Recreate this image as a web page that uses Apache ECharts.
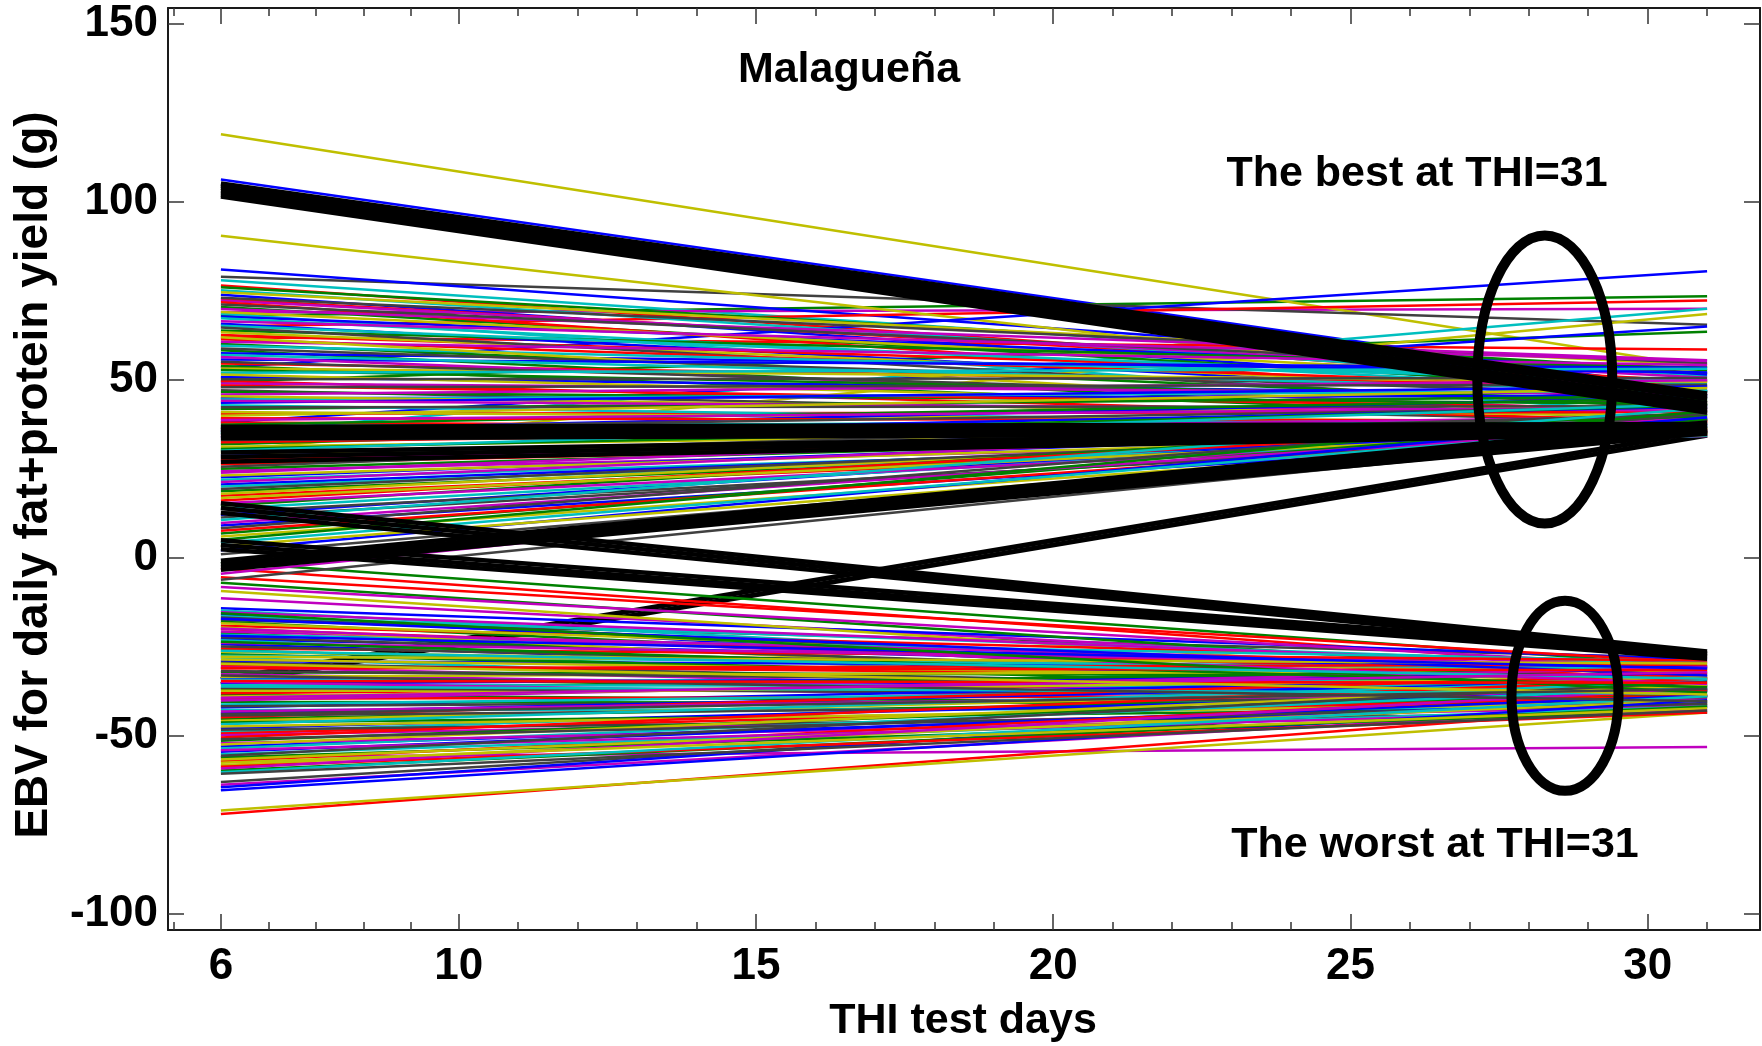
<!DOCTYPE html>
<html>
<head>
<meta charset="utf-8">
<script src="https://cdn.jsdelivr.net/npm/echarts@6/dist/echarts.min.js"></script>
<style>
  html, body { margin: 0; padding: 0; background: #ffffff; }
  #chart { width: 1762px; height: 1046px; }
</style>
</head>
<body>
<div id="chart"></div>
<script>
// THI values at which each sire's reaction norm is evaluated
const thiPoints = [6, 31];

// axis ticks
const xMajorTicks = [6, 10, 15, 20, 25, 30];
const xMinorTicks = [5.2, 6.8, 7.6, 8.4, 9.2, 11, 12, 13, 14, 16, 17, 18, 19,
                     21, 22, 23, 24, 26, 27, 28, 29, 31];
const yTicks = [-100, -50, 0, 50, 100, 150];

// EBV (g) of every sire at THI = 6, in plotting order (seven per row)
const ebvAt6 = [
  106.3, 68, 76.5, 78, 69, 119, 79,
  81, 49.5, 65, 35, -56, 90.5, -63,
  53.5, -1.2, 62, 68.6, -63.8, 30, -17.5,
  38, 58.3, -72, -28.0, -11.4, -71, 47.1,
  -64.5, -38.5, 38.0, -49.0, 24.4, -58.3, 11.3,
  73.9, 76.0, 72.7, 75.2, 72.3, 74.6, 73.1,
  67.8, 70.5, 71.8, 67.3, 69.9, 69.1, 71.2,
  65.8, 63.9, 62.6, 65.2, 66.5, 63.4, 64.7,
  57.5, 60.1, 61.4, 59.6, 60.7, 62.0, 58.8,
  55.7, 53.9, 54.6, 57.0, 56.4, 53.2, 55.1,
  50.8, 52.8, 49.7, 52.0, 49.0, 51.5, 50.2,
  44.8, 46.6, 48.4, 44.5, 45.9, 45.4, 47.9,
  43.6, 41.8, 40.5, 42.9, 44.1, 41.0, 42.3,
  35.6, 37.4, 39.2, 36.9, 38.7, 39.9, 36.2,
  33.8, 31.9, 32.5, 35.0, 34.3, 31.2, 33.1,
  28.8, 30.6, 27.5, 30.1, 26.9, 29.4, 28.1,
  22.6, 25.0, 26.3, 21.9, 23.9, 23.1, 25.6,
  20.6, 18.7, 17.4, 20.0, 21.3, 18.0, 19.3,
  12.1, 14.6, 16.1, 13.8, 15.3, 16.8, 12.9,
  9.1, 6.8, 7.6, 10.6, 9.8, 6.0, 8.3,
  2.1, 5.1, -3.0, 4.2, -4.5, 3.3, 1.0,
  -14.2, -7.0, -5.5, -14.8, -8.2, -9.3, -6.2,
  -15.9, -18.0, -19.1, -16.4, -15.3, -18.4, -16.8,
  -22.8, -21.2, -20.0, -21.6, -20.7, -19.6, -22.3,
  -24.3, -25.9, -25.5, -23.2, -23.9, -26.4, -24.9,
  -29.1, -27.1, -30.2, -27.5, -30.7, -28.6, -29.5,
  -33.8, -32.2, -31.1, -34.3, -32.7, -33.4, -31.8,
  -35.4, -37.0, -38.1, -35.8, -34.9, -37.4, -36.5,
  -42.1, -40.5, -39.6, -41.2, -40.1, -39.0, -41.7,
  -43.7, -45.2, -44.8, -42.8, -43.2, -45.9, -44.3,
  -47.9, -46.3, -49.4, -46.8, -49.9, -47.4, -48.3,
  -53.0, -51.4, -50.5, -53.6, -52.1, -52.5, -51.0,
  -54.5, -56.1, -57.2, -55.2, -54.1, -56.7, -55.6,
  -65.3, -59.8, -58.7, -60.3, -59.2, -57.6, -60.7,
  -17.1, -23.6, -30.9, -36.2, -19.9, -27.8, -33.1,
  -21.9, -15.6, -34.6, -26.1, -39.3, -29.8, -44.0
];

// EBV (g) of the same sires at THI = 31
const ebvAt31 = [
  46.8, 73.5, 48, 51, 70, 53.5, 65.5,
  51.5, 63.5, 72.3, 70, -53.2, 44, -38.5,
  80.5, -30.5, 58.5, 40.1, -41.5, 68.5, -28.3,
  65, 38.4, -41, -41.4, -32.5, -43.5, 38.3,
  -36.8, -41.5, 36.1, -35.6, 34.2, -38.5, 35.8,
  46, 52.7, 49.5, 48.5, 50.6, 54.2, 54.7,
  51.8, 46.8, 43.2, 46.6, 55.5, 49.3, 52,
  44.1, 53.4, 49.9, 48.9, 55.3, 46.2, 41.7,
  52.1, 43, 47.5, 49.8, 54.2, 38.7, 45.5,
  53.4, 38.8, 48, 46.9, 40.7, 49.5, 43.2,
  45.7, 44.4, 38.3, 53.1, 46, 40.9, 50.5,
  45.5, 43.2, 41.8, 47, 49.9, 39.7, 48.6,
  48.1, 45.4, 41, 36.8, 41.3, 38.1, 42.6,
  45.2, 44.8, 38.5, 38.7, 42.3, 47.7, 42.4,
  42.5, 42.9, 38.1, 37, 39.7, 36.6, 35.3,
  37.7, 39.4, 35.3, 43.2, 39.1, 35, 40.5,
  37.5, 36.4, 35.8, 34.3, 39, 35.7, 40.6,
  35.8, 35.1, 34.6, 34.6, 39, 37.9, 37.3,
  39.1, 40.2, 38.5, 36.9, 35.4, 36.2, 34.5,
  34.8, 38.8, 36.4, 42.0, 37.2, 35.1, 40.5,
  39.5, 41.2, -32, 37.6, 38.2, 34.9, 36.0,
  -28.6, -34, -29.5, -35.8, -30.8, -36, 35.5,
  -39, -37.4, -29.6, -30.1, -30.9, -32.5, -34.2,
  -32.4, -37, -33.8, -29.1, -30.9, -40.7, -35.3,
  -36.7, -39, -28.9, -39.4, -30.6, -32.1, -33.8,
  -30.6, -36.2, -33.8, -31.3, -39.9, -34.5, -37.7,
  -37.6, -33.2, -30, -34.7, -39.3, -31.5, -36.2,
  -32.9, -31.2, -34.4, -36, -41.8, -37.3, -39.1,
  -33.2, -40.9, -38.7, -36, -30.8, -33.6, -39.1,
  -34.5, -38.8, -32.8, -42.4, -37.4, -36, -40.7,
  -37.4, -42.1, -38.7, -34.2, -41.8, -40.3, -43.5,
  -40.4, -37.1, -33.9, -36.5, -43.2, -35.3, -41,
  -38.7, -43, -37.2, -41.8, -42.6, -40.1, -34.9,
  -40, -41.8, -43.5, -38.9, -36.6, -42.3, -42.9,
  -33.1, -36.4, -31.6, -38.2, -35.5, -29.7, -40.3,
  -31.1, -37.9, -35.1, -34.0, -32.2, -38.4, -36.9
];

// highlighted sires (black); this first group is drawn beneath the others
const blackUnderAt6 = [-34.2, -35.6];
const blackUnderAt31 = [35.6, 34.4];

// highlighted sires (black) drawn on top
const blackAt6 = [
  105.2, 104.6, 104.0, 103.3, 102.7, 102.1, 101.5,
  36.8, 36.0, 35.2, 34.4, 33.6,
  29.6, 28.3, 27.0,
  -0.8, -1.8, -2.6, -3.4,
  15.3, 14.0, 12.6,
  4.9, 3.6, 2.4
];
const blackAt31 = [
  46.2, 45.4, 44.6, 43.4, 42.5, 41.6, 40.8,
  37.6, 37.0, 36.3, 35.6, 35.0,
  36.4, 35.7, 35.0,
  38.0, 37.0, 36.0, 35.0,
  -26.3, -27.0, -27.6,
  -27.0, -27.8, -28.4
];

// rings around the best and the worst sires at THI = 31 (centre and half-axes in data units)
const ringTHI = [28.27, 28.61];
const ringEBV = [50.1, -38.8];
const ringHalfTHI = [1.135, 0.9];
const ringHalfEBV = [40.5, 26.7];

// MATLAB-style line colour order
const lineColors = ['#0000ff', '#008000', '#ff0000', '#00bfbf', '#bf00bf', '#bfbf00', '#404040'];

const FONT = '"Liberation Sans", Arial, Helvetica, sans-serif';
const X_MIN = 5.11, X_MAX = 31.89;
const Y_MIN = -104.6, Y_MAX = 154.5;
const AXIS_COLOR = '#1a1a1a';

function normSeries(at6, at31, colorOf, width) {
  return at6.map((v, i) => ({
    type: 'line',
    data: [[thiPoints[0], v], [thiPoints[1], at31[i]]],
    symbol: 'none',
    silent: true,
    lineStyle: { color: colorOf(i), width: width },
    emphasis: { disabled: true },
    z: 2
  }));
}

const series = [].concat(
  normSeries(blackUnderAt6, blackUnderAt31, () => '#000000', 5),
  normSeries(ebvAt6, ebvAt31, i => lineColors[i % lineColors.length], 2.5),
  normSeries(blackAt6, blackAt31, () => '#000000', 4.5),
  [{
    type: 'custom',
    silent: true,
    z: 3,
    data: ringTHI.map((t, i) => [t, ringEBV[i], ringHalfTHI[i], ringHalfEBV[i]]),
    renderItem: function (params, api) {
      const c = api.coord([api.value(0), api.value(1)]);
      const s = api.size([api.value(2), api.value(3)]);
      return {
        type: 'ellipse',
        shape: { cx: c[0], cy: c[1], rx: s[0], ry: s[1] },
        style: { fill: 'none', stroke: '#000000', lineWidth: 10 }
      };
    }
  }]
);

function xAxisDef(position, ticks, length, withLine, withLabels) {
  return {
    type: 'value', min: X_MIN, max: X_MAX, position: position,
    axisLine: { show: withLine, onZero: false, lineStyle: { color: AXIS_COLOR, width: 2 } },
    axisTick: { show: true, inside: true, length: length, customValues: ticks,
                lineStyle: { color: '#333333', width: 1.5 } },
    axisLabel: withLabels
      ? { show: true, customValues: ticks, fontSize: 44, fontWeight: 'bold', fontFamily: FONT,
          color: '#000000', margin: 15 }
      : { show: false },
    splitLine: { show: false }
  };
}

function yAxisDef(position, withLabels) {
  return {
    type: 'value', min: Y_MIN, max: Y_MAX, position: position,
    axisLine: { show: true, onZero: false, lineStyle: { color: AXIS_COLOR, width: 2 } },
    axisTick: { show: true, inside: true, length: 16, customValues: yTicks,
                lineStyle: { color: '#333333', width: 1.5 } },
    axisLabel: withLabels
      ? { show: true, customValues: yTicks, fontSize: 44, fontWeight: 'bold', fontFamily: FONT,
          color: '#000000', margin: 10 }
      : { show: false },
    splitLine: { show: false }
  };
}

const textStyle = (txt, size) => ({
  text: txt, fill: '#000000', align: 'center', verticalAlign: 'middle',
  font: 'bold ' + size + 'px ' + FONT
});

const chart = echarts.init(document.getElementById('chart'), null, { renderer: 'canvas' });
chart.setOption({
  animation: false,
  backgroundColor: '#ffffff',
  grid: { left: 168, right: 2, top: 8, bottom: 116, containLabel: false },
  xAxis: [
    xAxisDef('bottom', xMajorTicks, 16, true, true),
    xAxisDef('bottom', xMinorTicks, 8, false, false),
    xAxisDef('top', xMajorTicks, 16, true, false),
    xAxisDef('top', xMinorTicks, 8, false, false)
  ],
  yAxis: [
    yAxisDef('left', true),
    yAxisDef('right', false)
  ],
  series: series,
  graphic: [
    { type: 'text', x: 849, y: 70, style: textStyle('Malagueña', 43) },
    { type: 'text', x: 1417, y: 174, style: textStyle('The best at THI=31', 43) },
    { type: 'text', x: 1435, y: 845, style: textStyle('The worst at THI=31', 43) },
    { type: 'text', x: 963, y: 1021, style: textStyle('THI test days', 43) },
    { type: 'text', x: 34, y: 475, rotation: Math.PI / 2,
      style: textStyle('EBV for daily fat+protein yield (g)', 46) }
  ]
});
</script>
</body>
</html>
